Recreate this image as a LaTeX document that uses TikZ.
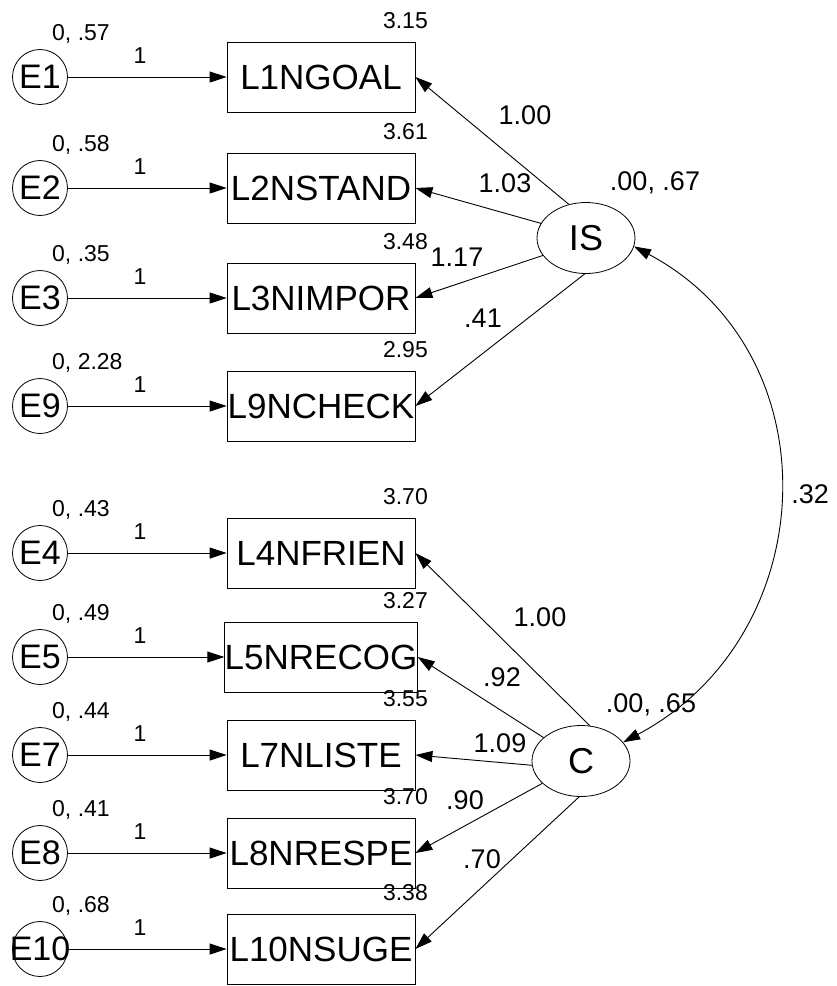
\documentclass[tikz,border=0pt]{standalone}
\usepackage{fontspec}
\setmainfont{Liberation Sans}
\usetikzlibrary{arrows.meta,shapes.geometric}

\begin{document}
\begin{tikzpicture}[x=1pt,y=1pt,
    path/.style={line width=0.9pt,-{Triangle[length=17pt,width=11pt]}},
    errvar/.style={circle,draw,line width=0.8pt,minimum size=55pt,inner sep=0pt,font=\fontsize{34}{40}\selectfont},
    obsvar/.style={rectangle,draw,line width=0.8pt,minimum width=188pt,minimum height=70pt,inner sep=0pt,font=\fontsize{35}{42}\selectfont},
    latent/.style={ellipse,draw,line width=0.8pt,minimum width=98pt,minimum height=71pt,inner sep=0pt,font=\fontsize{36}{42}\selectfont},
    small/.style={inner sep=0pt,font=\fontsize{23}{28}\selectfont},
    coef/.style={inner sep=0pt,font=\fontsize{27}{32}\selectfont}]
        \useasboundingbox (0,0) rectangle (836,-986);
        % indicators with their error terms
        \foreach \nm/\bx/\ev/\ic/\y in {E1/L1NGOAL/.57/3.15/77, E2/L2NSTAND/.58/3.61/188,
            E3/L3NIMPOR/.35/3.48/298, E9/L9NCHECK/2.28/2.95/406, E4/L4NFRIEN/.43/3.70/553,
            E5/L5NRECOG/.49/3.27/657, E7/L7NLISTE/.44/3.55/755, E8/L8NRESPE/.41/3.70/853,
            E10/L10NSUGE/.68/3.38/949}
        {
            \node[errvar] (\nm) at (40,-\y) {\makebox[0pt]{\nm}};
            \node[obsvar] (\bx) at (321,-\y) {\bx};
            \draw[path] (\nm) -- (\bx);
            \node[small,anchor=base west] at (52,-\y+37) {0, \ev};
            \node[small,anchor=base] at (140,-\y+14) {1};
            \node[small,anchor=base east] at (428,-\y+49) {\ic};
        }
        % latent factors
        \node[latent] (IS) at (586,-238) {IS};
        \node[latent] (C) at (581,-761) {C};
        \node[coef] at (655,-183) {.00, .67};
        \node[coef] at (651,-705) {.00, .65};
        \foreach \a/\bx/\v/\lx/\ly in {117/L1NGOAL/1.00/525/115, 162/L2NSTAND/1.03/505/183,
            202/L3NIMPOR/1.17/457/257, 268/L9NCHECK/.41/483/318}
        {
            \draw[path] (IS.\a) -- (\bx.east);
            \node[coef] at (\lx,-\ly) {\v};
        }
        \foreach \a/\bx/\v/\lx/\ly in {76/L4NFRIEN/1.00/540/617, 148/L5NRECOG/.92/502/677,
            185/L7NLISTE/1.09/500/743, 210/L8NRESPE/.90/465/800, 267/L10NSUGE/.70/482/859}
        {
            \draw[path] (C.\a) -- (\bx.east);
            \node[coef] at (\lx,-\ly) {\v};
        }
        % covariance
        \draw[line width=0.9pt,{Triangle[length=17pt,width=11pt]}-{Triangle[length=17pt,width=11pt]}]
            (IS.-10) to[out=-28,in=28,looseness=1.17] node[coef,right=12pt] {.32} (C.24);
    \end{tikzpicture}
\end{document}
